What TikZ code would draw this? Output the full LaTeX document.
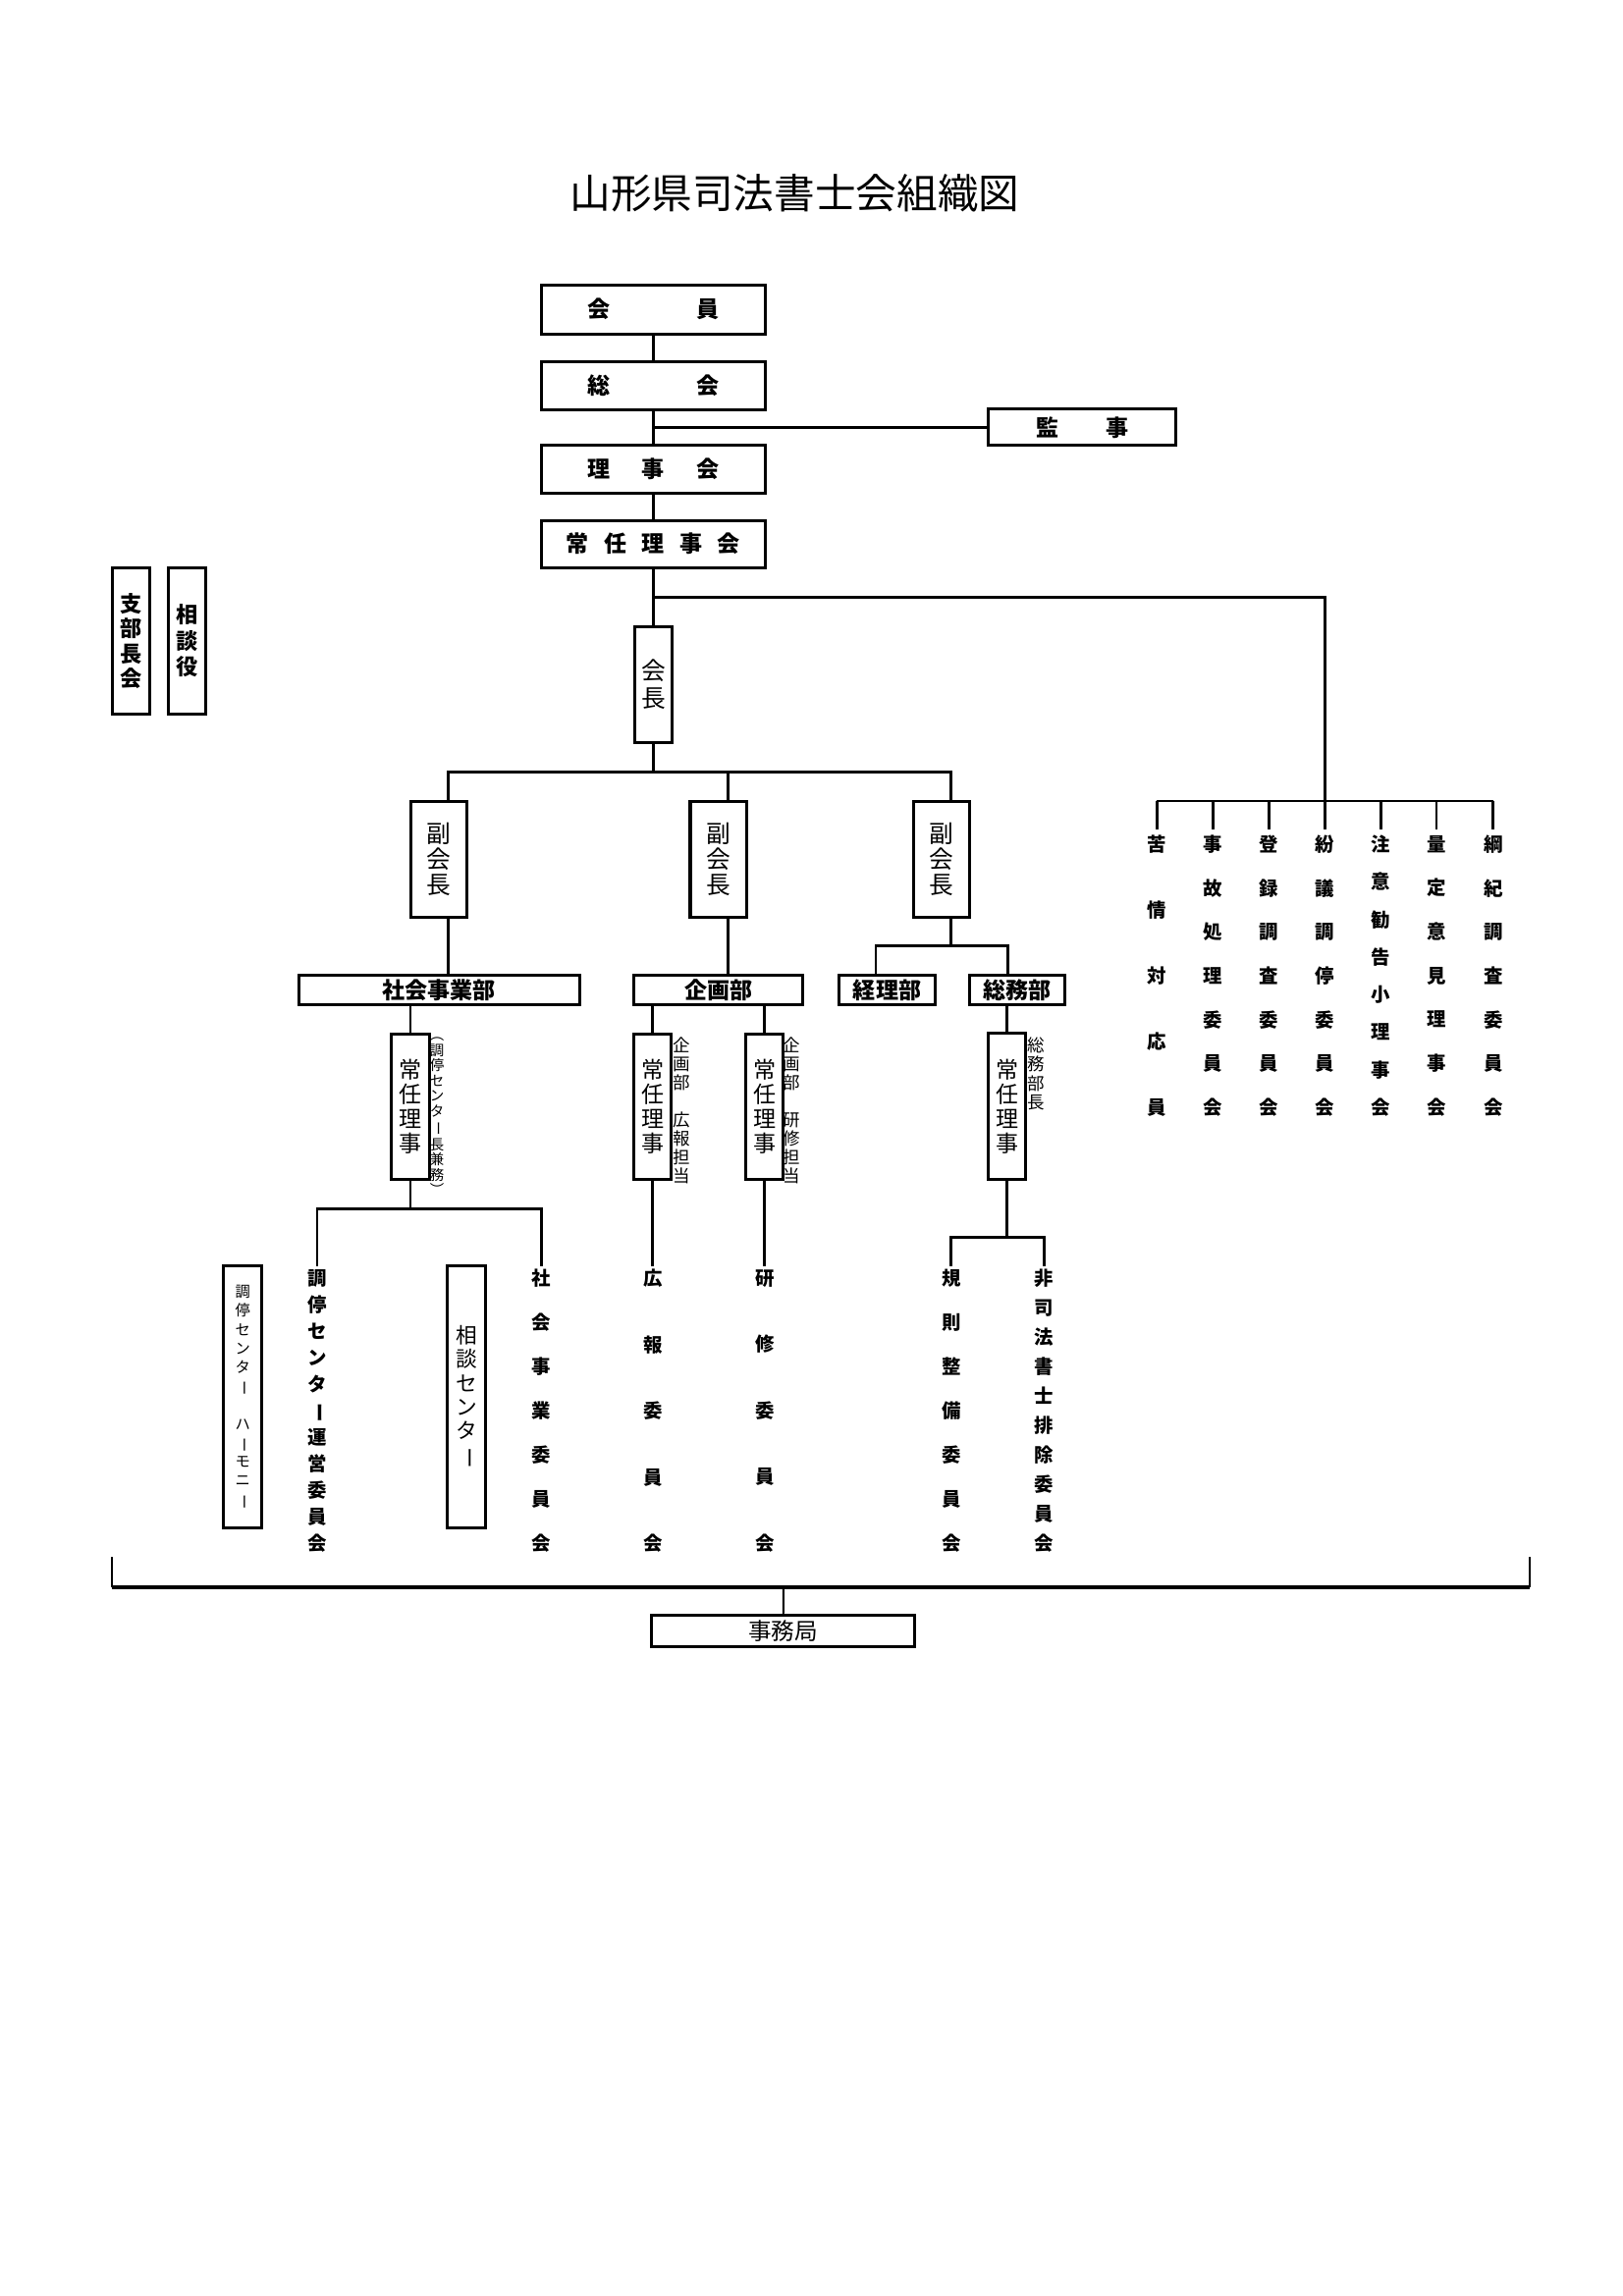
\documentclass[tikz,border=0pt]{standalone}
\usepackage{fontspec}
\setmainfont{Noto Sans CJK JP}
\usepackage{graphicx}
\usetikzlibrary{calc}
\def\U{0.5373pt}
\newcommand\cho{\rotatebox[origin=c]{-90}{ー}}
\ExplSyntaxOn
\NewDocumentCommand\vt{m}{\vbox{\tl_map_inline:nn{#1}{\hbox~to~0pt{\hss ##1\hss}}}}
\ExplSyntaxOff
\tikzset{
  bx/.style 2 args={draw, line width=1.1pt, minimum width={#1*\U}, minimum height={#2*\U}, inner sep=0pt},
  ln/.style={line width=1pt},
  hb/.style={font=\bfseries\fontsize{8.3}{10}\selectfont},
  vtx/.style 2 args={font=\fontsize{#1}{#2}\selectfont},
  vbd/.style 2 args={font=\bfseries\fontsize{#1}{#2}\selectfont},
  colt/.style={inner sep=0pt, font=\bfseries\fontsize{7}{#1}\selectfont},
  ann/.style 2 args={inner sep=0pt, font=\fontsize{#1}{#2}\selectfont},
}
\begin{document}
\begin{tikzpicture}[x=\U, y=-\U]
\fill[white] (0,0) rectangle (1108,1568);
\useasboundingbox (0,0) rectangle (1108,1568);

% title
\node[inner sep=0pt, font=\fontsize{15}{18}\selectfont] (title) at (542.6,131.7) {山形県司法書士会組織図};

% top chain
\node[bx={153.2}{33.5}, hb] (kaiin) at (446.1,211.2) {会\hspace{31.6pt}員};
\node[bx={153.2}{33}, hb] (sokai) at (446.1,263.5) {総\hspace{31.6pt}会};
\node[bx={128}{25}, hb] (kanji) at (739,291.8) {監\hspace{17.3pt}事};
\node[bx={153.2}{33}, hb] (riji) at (446.1,320.5) {理\hspace{11.6pt}事\hspace{11.6pt}会};
\node[bx={153.2}{32.3}, hb] (jrk) at (446.1,371.5) {常\hspace{5.56pt}任\hspace{5.56pt}理\hspace{5.56pt}事\hspace{5.56pt}会};

\draw[ln] (kaiin.south) -- (sokai.north);
\draw[ln] (sokai.south) -- (riji.north);
\draw[ln] (kanji.west) -- (kanji.west -| sokai.south);
\draw[ln] (riji.south) -- (jrk.north);

% side boxes
\node[bx={25.7}{100}, vbd={8}{9.2}] (shibu) at (89.5,437.7) {\vt{支部長会}};
\node[bx={25.9}{100}, vbd={8}{9.6}] (sodan) at (127.7,437.7) {\vt{相談役}};

% president
\node[bx={25.6}{79.3}, vtx={8.9}{10.2}] (kaicho) at (446.1,467.5) {\vt{会長}};
\draw[ln] (jrk.south) -- (kaicho.north);

% committees on the right
\coordinate (br1) at (446.1,407.8);
\coordinate (cb) at (904.4,547);
\coordinate (cdrop) at (0,566.4);
\draw[ln] (br1) -| (cb);
\node[colt={24.15pt}] (c1) at (789.8,666.4) {\vt{苦情対応員}};
\node[colt={16.1pt}] (c2) at (828.3,666.4) {\vt{事故処理委員会}};
\node[colt={16.1pt}] (c3) at (866.2,666.4) {\vt{登録調査委員会}};
\node[colt={16.1pt}] (c4) at (904.4,666.4) {\vt{紛議調停委員会}};
\node[colt={13.8pt}] (c5) at (942.9,666.4) {\vt{注意勧告小理事会}};
\node[colt={16.1pt}] (c6) at (980.8,666.4) {\vt{量定意見理事会}};
\node[colt={16.1pt}] (c7) at (1019.5,666.4) {\vt{綱紀調査委員会}};
\draw[ln] (c1 |- cb) -- (c7 |- cb);
\foreach \c in {c1,c2,c3,c4,c5,c6,c7} \draw[ln] (\c |- cb) -- (\c |- cdrop);

% vice presidents
\coordinate (b2) at (446.1,527.3);
\node[bx={38.3}{79.7}, vtx={8.9}{9.35}] (f1) at (299.4,586.9) {\vt{副会長}};
\node[bx={38.3}{79.7}, vtx={8.9}{9.35}] (f2) at (490.4,586.9) {\vt{副会長}};
\node[bx={38.3}{79.7}, vtx={8.9}{9.35}] (f3) at (643,586.9) {\vt{副会長}};
\draw[ln] (kaicho.south) -- (b2);
\draw[ln] ($(f1.north)+(6.5,0)$) |- (b2);
\draw[ln] ($(f2.north)+(6.5,0)$) |- (b2);
\draw[ln] ($(f3.north)+(6,0)$) |- (b2);

% departments
\node[bx={191.7}{19.6}, hb] (shakai) at (299.7,676.1) {社会事業部};
\node[bx={115}{19.6}, hb] (kikaku) at (490.5,676.1) {企画部};
\node[bx={65.5}{19.6}, hb] (keiri) at (605.7,676.1) {経理部};
\node[bx={65}{19.6}, hb] (somu) at (694.5,676.1) {総務部};

\draw[ln] ($(f1.south)+(6.5,0)$) coordinate (t1) -- (t1 |- shakai.north);
\draw[ln] ($(f2.south)+(6.5,0)$) coordinate (t2) -- (t2 |- kikaku.north);
\coordinate (b3) at (649,646);
\draw[ln] ($(f3.south)+(6,0)$) -- (b3);
\draw[ln] ($(keiri.north)+(-7.7,0)$) |- (b3) -| ($(somu.north)+(-6.5,0)$);

% standing directors
\node[bx={25.6}{99.5}, vtx={8.3}{9}] (j1) at (280.2,755.8) {\vt{常任理事}};
\node[bx={25.6}{99.5}, vtx={8.3}{9}] (j2) at (445.6,755.8) {\vt{常任理事}};
\node[bx={25.6}{99.5}, vtx={8.3}{9}] (j3) at (522,755.8) {\vt{常任理事}};
\node[bx={25.8}{99.9}, vtx={8.3}{9}] (j4) at (687.6,755.6) {\vt{常任理事}};
\draw[ln] (j1.north) -- (j1.north |- shakai.south);
\draw[ln] (j2.north) -- (j2.north |- kikaku.south);
\draw[ln] (j3.north) -- (j3.north |- kikaku.south);
\draw[ln] (j4.north) -- (j4.north |- somu.south);

% annotations
\node[ann={5.2}{5.58}] (a1) at (298.3,762.5) {\vt{︵調停センタ\cho 長兼務︶}};
\node[ann={6.3}{6.84}] (a2) at (465.2,758.5) {\vt{企画部　広報担当}};
\node[ann={6.3}{6.84}] (a3) at (540.8,758.5) {\vt{企画部　研修担当}};
\node[ann={6.3}{7}] (a4) at (707.2,733.4) {\vt{総務部長}};

% lower committees
\coordinate (dropB) at (0,864.7);
\node[colt={9.72pt}] (s1) at (216.6,963.3) {\vt{調停センタ\cho 運営委員会}};
\node[colt={16.2pt}] (s2) at (369.8,963.3) {\vt{社会事業委員会}};
\node[colt={24.3pt}] (k1) at (446,963.5) {\vt{広報委員会}};
\node[colt={24.3pt}] (k2) at (522.4,963.5) {\vt{研修委員会}};
\node[colt={16.2pt}] (g1) at (649.5,963.5) {\vt{規則整備委員会}};
\node[colt={10.8pt}] (g2) at (713,963.5) {\vt{非司法書士排除委員会}};

\coordinate (b4) at (280.2,825.6);
\draw[ln] (j1.south) -- (b4);
\draw[ln] (s1 |- dropB) |- (b4) -| (s2 |- dropB);
\draw[ln] (j2.south) -- (j2.south |- dropB);
\draw[ln] (j3.south) -- (j3.south |- dropB);
\coordinate (b5) at (687.6,845);
\draw[ln] (j4.south) -- (b5);
\draw[ln] (g1 |- dropB) |- (b5) -| (g2 |- dropB);

% centre boxes
\node[bx={26.1}{179}, vtx={5.5}{6.93}] (chotei) at (165.7,954.2) {\vt{調停センタ\cho　ハ\cho モニ\cho}};
\node[bx={26.2}{179}, vtx={7.8}{8.76}] (sodanc) at (318.7,954.2) {\vt{相談センタ\cho}};

% bracket and secretariat
\coordinate (bl) at (76.4,1063.5);
\coordinate (brr) at (1044.7,1063.5);
\coordinate (bm) at (534.9,1084);
\node[bx={179.6}{21}, font=\fontsize{8.5}{10}\selectfont] (jimu) at (534.8,1113.8) {事務局};
\draw[line width=1.4pt] (bl |- bm) -- (brr |- bm);
\draw[line width=0.7pt] (bl) -- (bl |- bm);
\draw[line width=0.7pt] (brr) -- (brr |- bm);
\draw[line width=0.7pt] (bm) -- (jimu.north);
\end{tikzpicture}
\end{document}
